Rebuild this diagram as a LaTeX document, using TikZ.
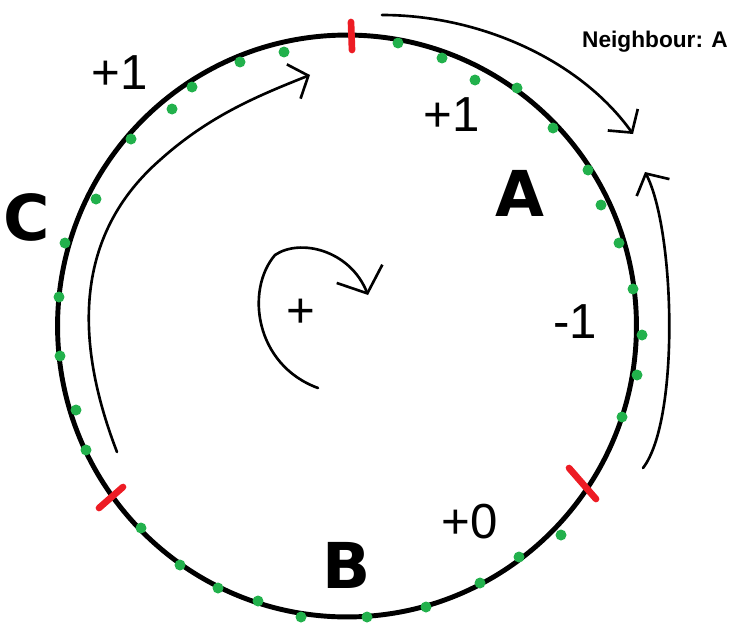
\documentclass[tikz,border=0pt]{standalone}
\usepackage{fontspec}
\setmainfont{Liberation Sans}
\newfontfamily\penfont{DejaVu Sans}
\usetikzlibrary{arrows.meta}
\definecolor{paintred}{RGB}{237,28,36}
\definecolor{paintgreen}{RGB}{34,177,76}
\tikzset{ring/.style = {draw, line width = 2.8pt}}
\tikzset{cutmark/.style = {draw = paintred, line width = 3.8pt, line cap = round}}
\tikzset{dot/.style = {fill = paintgreen}}
\tikzset{edge/.style = {line width = 1.5pt, line cap = round, -{Straight Barb[length = 9pt, width = 21pt]}}}
\tikzset{bigtip/.style = {-{Straight Barb[length = 12pt, width = 28pt]}}}
\tikzset{hand/.style = {font = \fontsize{28}{28}\selectfont}}
\tikzset{zone/.style = {font = \penfont\bfseries\fontsize{36}{36}\selectfont}}
\tikzset{note/.style = {font = \bfseries\fontsize{12.9}{14}\selectfont}}

\begin{document}
\begin{tikzpicture}[x = 0.02cm, y = -0.02cm]
				\useasboundingbox (0, 0) rectangle (730, 622);

				\draw[ring] (347, 326) ellipse [x radius = 5.79cm, y radius = 5.82cm];

				\draw[cutmark] (351, 22) -- (352, 50);
				\draw[cutmark] (99, 508) -- (123, 487);
				\draw[cutmark] (569, 468) -- (596, 499);

				\foreach \x/\y in {240/62, 284/52, 398/43, 442/58, 475/80, 517/88, 553/128, 588/170,
						601/205, 619/243, 633/289, 642/335, 637/375, 622/417, 561/535, 519/557,
						480/583, 426/607, 367/617, 301/617, 258/601, 218/588, 180/565, 141/528,
						86/450, 76/410, 60/356, 59/297, 65/243, 96/199, 131/139, 172/109, 192/87}
					\fill[dot] (\x, \y) circle (0.11cm);

				\node[hand] (plusC) at (120, 73) {+1};
				\node[hand] (plusA) at (452, 115) {+1};
				\node[zone] (c) at (27, 217) {C};
				\node[zone] (a) at (520, 193) {A};
				\node[zone] (b) at (347, 565) {B};
				\node[hand] (spin) at (301, 313) {+};
				\node[hand] (minusA) at (575, 322) {-1};
				\node[hand] (zeroB) at (470, 522) {+0};
				\node[note] (nb) at (655, 42) {Neighbour: A};

				\coordinate (cs) at (117, 452);
				\coordinate (ce) at (310, 75);
				\coordinate (as) at (382, 15);
				\coordinate (ae) at (633, 134);
				\coordinate (bs) at (643, 468);
				\coordinate (be) at (645, 172);
				\coordinate (ss) at (318, 388);
				\coordinate (se) at (368, 295);

				\draw[edge] (cs) .. controls (70, 330) and (80, 230) .. (160, 160) .. controls (210, 115) and (260, 95) .. (ce);
				\draw[edge] (as) .. controls (480, 15) and (580, 60) .. (ae);
				\draw[edge] (bs) .. controls (680, 420) and (675, 230) .. (be);
				\draw[edge, bigtip] (ss) .. controls (255, 365) and (245, 290) .. (275, 255) .. controls (300, 238) and (350, 250) .. (se);
			\end{tikzpicture}
\end{document}
